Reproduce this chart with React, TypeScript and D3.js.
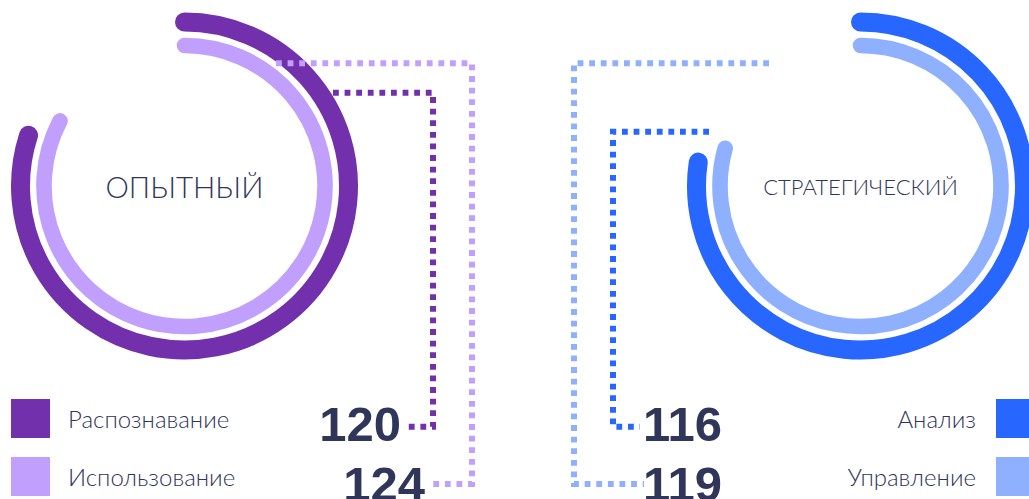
import React from "react";
import * as d3 from "d3";

// ---- data ----
const groupTitles = ["ОПЫТНЫЙ", "СТРАТЕГИЧЕСКИЙ"];
const seriesNamesLeft = ["Распознавание", "Использование"];
const seriesNamesRight = ["Анализ", "Управление"];
const valuesLeft = [120, 124];
const valuesRight = [116, 119];
const maxValue = 150;
const colorsLeft = ["#7230AD", "#C1A0FD"];
const colorsRight = ["#2766FF", "#8FB0FE"];

// ---- layout ----
const W = 1029;
const H = 499;
const CY = 186;
const CX_LEFT = 184.5;
const CX_RIGHT = 860.5;
const ringRadii = [164, 140.5];
const ringWidths = [19, 15.6];
const textColor = "#30355A";
const thinFont = "Lato, 'Open Sans', sans-serif";
const boldFont = "'Liberation Sans', Arial, sans-serif";

const angle = d3.scaleLinear().domain([0, maxValue]).range([0, 2 * Math.PI]);

function arcPath(cx: number, cy: number, r: number, v: number) {
  const p = d3.path();
  const a0 = -Math.PI / 2;
  const a1 = a0 + angle(v);
  p.moveTo(cx + r * Math.cos(a0), cy + r * Math.sin(a0));
  p.arc(cx, cy, r, a0, a1, false);
  return p.toString();
}

// connector polylines per series (layout guides)
const connectorsLeft: [number, number][][] = [
  [[333, 92.7], [433, 92.7], [433, 426.7], [405, 426.7]],
  [[276, 63.3], [472, 63.3], [472, 484], [428, 484]],
];
const connectorsRight: [number, number][][] = [
  [[709, 131.7], [613, 131.7], [613, 426.7], [640, 426.7]],
  [[769, 63.3], [574, 63.3], [574, 484], [644, 484]],
];
const rowBaselines = [428, 486];
const numberBaselines = [441, 500.5];
const numberRightEdges = [401, 425];
const numberLeftEdge = 643;

const line = d3.line();

export default function App() {
  return (
    <svg
      width={W}
      height={H}
      style={{ position: "absolute", left: 0, top: 0, display: "block", background: "#fff" }}
    >
      {/* rings */}
      {valuesLeft.map((v, i) => (
        <path
          key={"lr" + i}
          d={arcPath(CX_LEFT, CY, ringRadii[i], v)}
          fill="none"
          stroke={colorsLeft[i]}
          strokeWidth={ringWidths[i]}
          strokeLinecap="round"
        />
      ))}
      {valuesRight.map((v, i) => (
        <path
          key={"rr" + i}
          d={arcPath(CX_RIGHT, CY, ringRadii[i], v)}
          fill="none"
          stroke={colorsRight[i]}
          strokeWidth={ringWidths[i]}
          strokeLinecap="round"
        />
      ))}

      {/* connectors */}
      {connectorsLeft.map((pts, i) => (
        <path
          key={"lc" + i}
          d={line(pts) || ""}
          fill="none"
          stroke={colorsLeft[i]}
          strokeWidth={6}
          strokeDasharray="5.8 5.8"
        />
      ))}
      {connectorsRight.map((pts, i) => (
        <path
          key={"rc" + i}
          d={line(pts) || ""}
          fill="none"
          stroke={colorsRight[i]}
          strokeWidth={6}
          strokeDasharray="5.8 5.8"
        />
      ))}

      {/* titles */}
      <text
        x={CX_LEFT}
        y={CY}
        textAnchor="middle"
        dominantBaseline="central"
        fontFamily={thinFont}
        fontWeight={300}
        fontSize={29.5}
        fill={textColor}
      >
        {groupTitles[0]}
      </text>
      <text
        x={CX_RIGHT}
        y={CY}
        textAnchor="middle"
        dominantBaseline="central"
        fontFamily={thinFont}
        fontWeight={300}
        fontSize={22}
        fill={textColor}
      >
        {groupTitles[1]}
      </text>

      {/* left legend */}
      {seriesNamesLeft.map((name, i) => (
        <g key={"ll" + i}>
          <rect x={11} y={rowBaselines[i] - 29} width={39} height={39} fill={colorsLeft[i]} />
          <text
            x={68}
            y={rowBaselines[i]}
            fontFamily={thinFont}
            fontWeight={300}
            fontSize={24}
            fill={textColor}
          >
            {name}
          </text>
          <text
            x={numberRightEdges[i]}
            y={numberBaselines[i]}
            textAnchor="end"
            fontFamily={boldFont}
            fontWeight={700}
            fontSize={49}
            fill={textColor}
          >
            {valuesLeft[i]}
          </text>
        </g>
      ))}

      {/* right legend */}
      {seriesNamesRight.map((name, i) => (
        <g key={"rl" + i}>
          <rect x={996} y={rowBaselines[i] - 29} width={39} height={39} fill={colorsRight[i]} />
          <text
            x={976}
            y={rowBaselines[i]}
            textAnchor="end"
            fontFamily={thinFont}
            fontWeight={300}
            fontSize={24}
            fill={textColor}
          >
            {name}
          </text>
          <text
            x={numberLeftEdge}
            y={numberBaselines[i]}
            fontFamily={boldFont}
            fontWeight={700}
            fontSize={49}
            fill={textColor}
          >
            {valuesRight[i]}
          </text>
        </g>
      ))}
    </svg>
  );
}
